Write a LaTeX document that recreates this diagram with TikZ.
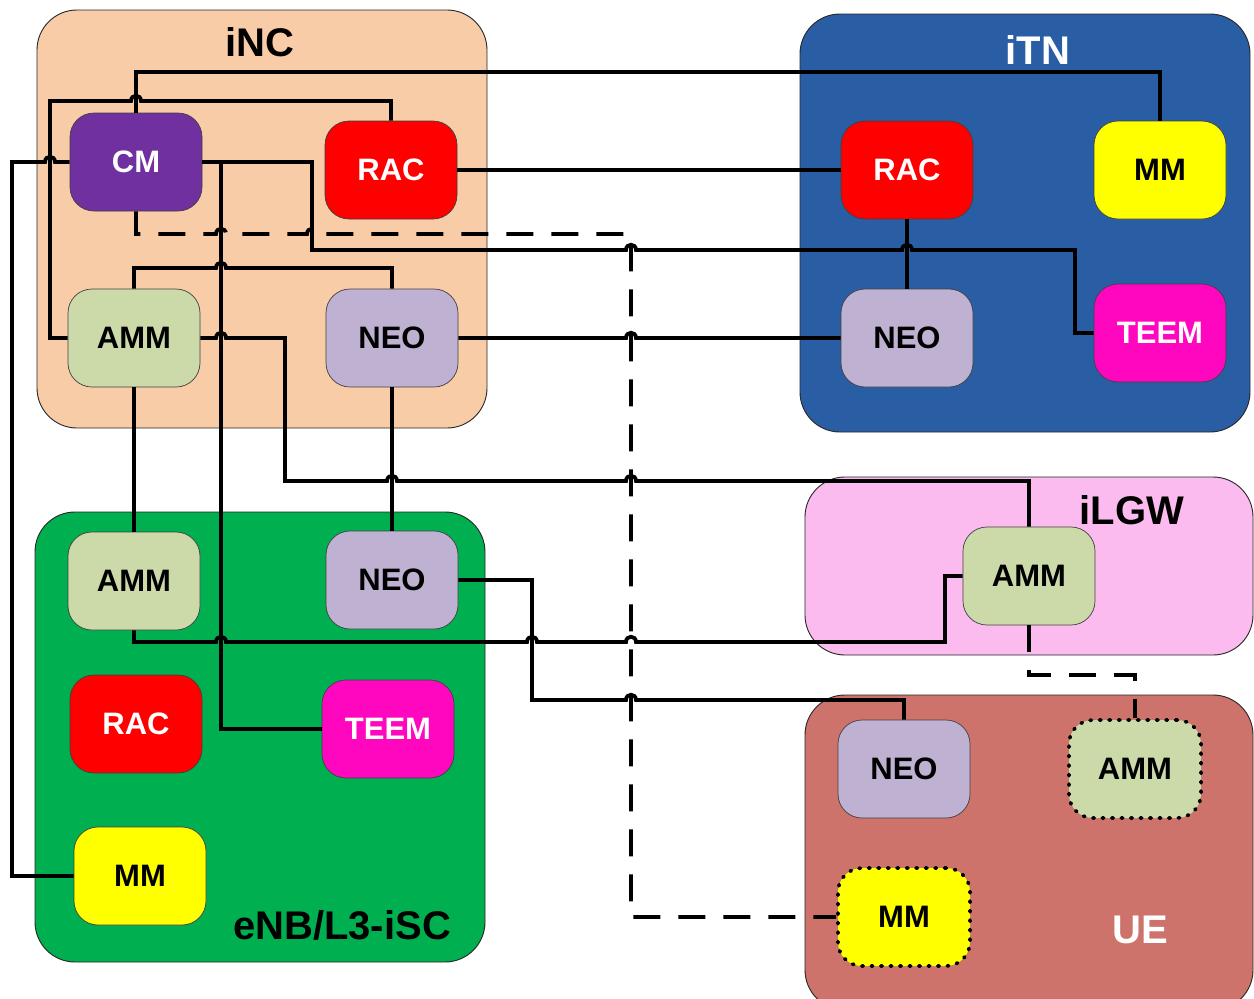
\documentclass[tikz,border=0pt]{standalone}
\usepackage{fontspec}
\setmainfont{Liberation Sans}
\definecolor{peach}{HTML}{F9CCA8}
\definecolor{tnblue}{HTML}{2A5EA4}
\definecolor{gwpink}{HTML}{FCBBEF}
\definecolor{scgreen}{HTML}{00AF50}
\definecolor{uered}{HTML}{CD736B}
\definecolor{cmpurple}{HTML}{7030A0}
\definecolor{ammgreen}{HTML}{CCDAAA}
\definecolor{neolav}{HTML}{BFB1D2}
\definecolor{teemmag}{HTML}{FF07BF}
\definecolor{mmyellow}{rgb}{1,1,0}
\tikzset{
  grp/.style={draw=black!85, line width=0.9pt, rounded corners=40pt},
  grplabel/.style={font=\fontsize{40}{40}\selectfont\bfseries, inner sep=0pt},
  fn/.style={draw=black!75, line width=0.7pt, rounded corners=24pt,
    minimum width=132pt, minimum height=98pt, inner sep=0pt,
    font=\fontsize{31}{31}\selectfont\bfseries},
  fnopt/.style={fn, draw=black, line width=3.6pt, line cap=round,
    dash pattern=on 1.5pt off 8pt},
  link/.style={draw=black, line width=3.8pt, line join=miter},
  optlink/.style={link, dash pattern=on 27pt off 18pt},
}
% a small bump where a horizontal line crosses a vertical one
\newcommand\hp[2]{-- (#1-5,#2) .. controls (#1-5,#2-7) and (#1+5,#2-7) .. (#1+5,#2)}
\begin{document}
\begin{tikzpicture}[x=1pt,y=-1pt]
\useasboundingbox (0,0) rectangle (1254,999);

% domains
\path[grp, fill=peach] (37,10) rectangle (487,428);
\path[grp, fill=tnblue] (800,14) rectangle (1250,432);
\path[grp, fill=gwpink] (805,477) rectangle (1253,655);
\path[grp, fill=scgreen] (35,512) rectangle (485,962);
\path[grp, fill=uered] (805,695) rectangle (1253,1010);

\node[grplabel] (lnc) at (260,42) {iNC};
\node[grplabel, text=white] (ltn) at (1038,50) {iTN};
\node[grplabel] (lgw) at (1132,510) {iLGW};
\node[grplabel] (lsc) at (342,925) {eNB/L3-iSC};
\node[grplabel, text=white] (lue) at (1140,930) {UE};

% iNC functions
\node[fn, fill=cmpurple, text=white] (cm) at (136,162) {CM};
\node[fn, fill=red, text=white] (racn) at (391,170) {RAC};
\node[fn, fill=ammgreen] (ammn) at (134,338) {AMM};
\node[fn, fill=neolav] (neon) at (392,338) {NEO};

% iTN functions
\node[fn, fill=red, text=white] (ract) at (907,170) {RAC};
\node[fn, fill=mmyellow] (mmt) at (1160,170) {MM};
\node[fn, fill=neolav] (neot) at (907,338) {NEO};
\node[fn, fill=teemmag, text=white] (teemt) at (1160,333) {TEEM};

% iLGW function
\node[fn, fill=ammgreen] (amml) at (1029,576) {AMM};

% eNB/L3-iSC functions
\node[fn, fill=ammgreen] (amme) at (134,581) {AMM};
\node[fn, fill=neolav] (neoe) at (392,580) {NEO};
\node[fn, fill=red, text=white] (race) at (136,724) {RAC};
\node[fn, fill=teemmag, text=white] (teeme) at (388,729) {TEEM};
\node[fn, fill=mmyellow] (mme) at (140,876) {MM};

% UE functions
\node[fn, fill=neolav] (neou) at (904,769) {NEO};
\node[fnopt, fill=ammgreen] (ammu) at (1135,769) {AMM};
\node[fnopt, fill=mmyellow] (mmu) at (904,917) {MM};

% interfaces
\draw[link] (cm.north) -- (136,72) -- (1160,72) -- (mmt.north);
\draw[link] (ammn.west) -- (50,338) -- (50,101) \hp{136}{101} -- (391,101) -- (racn.north);
\draw[link] (mme.west) -- (12,876) -- (12,162) \hp{50}{162} -- (cm.west);
\draw[link] (cm.east) -- (312,162) -- (312,250) \hp{631}{250} \hp{907}{250}
  -- (1075,250) -- (1075,333) -- (teemt.west);
\draw[link] (cm.east) -- (221,162) -- (221,729) -- (teeme.west);
\draw[optlink] (cm.south) -- (136,234) \hp{221}{234} \hp{312}{234}
  -- (631,234) -- (631,917) -- (mmu.west);
\draw[link] (ammn.north) -- (134,268) \hp{221}{268} -- (392,268) -- (neon.north);
\draw[link] (ammn.east) \hp{221}{338} -- (285,338) -- (285,481)
  \hp{392}{481} \hp{631}{481} -- (1029,481) -- (amml.north);
\draw[link] (neon.east) \hp{631}{338} -- (neot.west);
\draw[link] (racn.east) -- (ract.west);
\draw[link] (ract.south) -- (neot.north);
\draw[link] (ammn.south) -- (amme.north);
\draw[link] (neon.south) -- (neoe.north);
\draw[link] (amme.south) -- (134,642) \hp{221}{642} \hp{532}{642} \hp{631}{642}
  -- (945,642) -- (945,576) -- (amml.west);
\draw[link] (neoe.east) -- (532,580) -- (532,700) \hp{631}{700} -- (904,700) -- (neou.north);
\draw[optlink] (amml.south) -- (1029,675) -- (1135,675) -- (ammu.north);
\end{tikzpicture}
\end{document}
